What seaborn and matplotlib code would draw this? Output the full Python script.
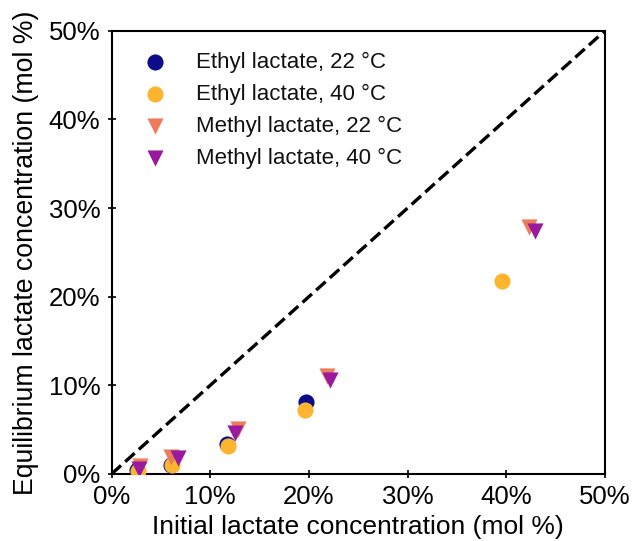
import matplotlib
matplotlib.use("Agg")
import matplotlib.pyplot as plt
import seaborn as sns
from matplotlib.ticker import PercentFormatter

# Data (mol %)
ethyl22_x = [2.6, 6.0, 11.7, 19.7]
ethyl22_y = [0.4, 1.0, 3.4, 8.1]
ethyl40_x = [2.7, 6.1, 11.8, 19.6, 39.6]
ethyl40_y = [0.3, 1.0, 3.2, 7.2, 21.8]
methyl22_x = [2.9, 6.0, 12.8, 21.8, 42.3]
methyl22_y = [0.9, 1.9, 5.1, 11.0, 27.9]
methyl40_x = [2.8, 6.7, 12.5, 22.1, 42.9]
methyl40_y = [0.6, 1.8, 4.6, 10.6, 27.4]

labels = ["Ethyl lactate, 22 °C", "Ethyl lactate, 40 °C",
          "Methyl lactate, 22 °C", "Methyl lactate, 40 °C"]
colors = ["#0c0c8a", "#fdb42f", "#ee7b59", "#9a1a9e"]
markers = ["o", "o", "v", "v"]
ticks = [0, 10, 20, 30, 40, 50]

sns.set_theme(style="ticks")
plt.rcParams["font.family"] = ["Liberation Sans", "DejaVu Sans"]
plt.rcParams["text.color"] = "black"

fig = plt.figure(figsize=(6.34, 5.41), dpi=100)
ax = fig.add_axes([0.176, 0.124, 0.778, 0.819])

series = [(ethyl22_x, ethyl22_y), (ethyl40_x, ethyl40_y),
          (methyl22_x, methyl22_y), (methyl40_x, methyl40_y)]
for (xs, ys), lab, col, mk in zip(series, labels, colors, markers):
    sns.scatterplot(x=xs, y=ys, ax=ax, color=col, marker=mk, s=135,
                    linewidth=0, label=lab, zorder=3)

ax.axline((0, 0), slope=1, color="black", linestyle=(0, (3.8, 1.7)),
          linewidth=2.4, zorder=2)

ax.set_xlim(0, 50)
ax.set_ylim(0, 50)
ax.set_xticks(ticks)
ax.set_yticks(ticks)
ax.xaxis.set_major_formatter(PercentFormatter(decimals=0))
ax.yaxis.set_major_formatter(PercentFormatter(decimals=0))
ax.tick_params(axis="both", labelsize=18.5, direction="inout", length=6,
               width=1.2, color="black", labelcolor="black", pad=5)
for sp in ax.spines.values():
    sp.set_visible(True)
    sp.set_color("black")
    sp.set_linewidth(1.5)

ax.set_xlabel("Initial lactate concentration (mol %)", fontsize=19,
              color="black", labelpad=4)
ax.set_ylabel("Equilibrium lactate concentration (mol %)", fontsize=19.2,
              color="black", labelpad=7)

ax.legend(loc="upper left", bbox_to_anchor=(0.043, 0.952), frameon=False,
          fontsize=16, borderaxespad=0, borderpad=0, handletextpad=0.85,
          labelspacing=0.48, handlelength=2.0, labelcolor="#111111")

fig.savefig("out.png", dpi=100)
